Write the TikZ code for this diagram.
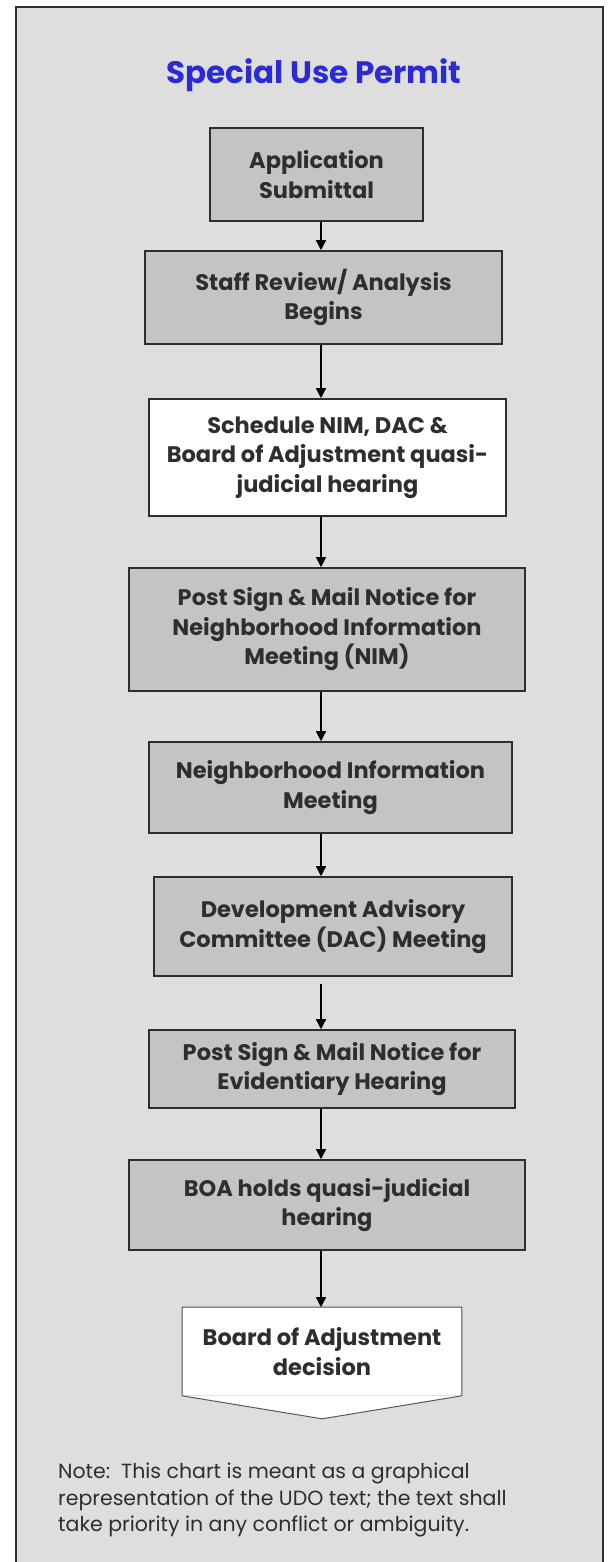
\documentclass[tikz,border=0pt]{standalone}
\usepackage{fontspec}
\setmainfont{Poppins}
\usetikzlibrary{positioning}
\usetikzlibrary{arrows.meta}

\definecolor{panel}{HTML}{DEDEDE}
\definecolor{boxgray}{HTML}{C4C4C4}
\definecolor{titleblue}{HTML}{2A2AD6}
\definecolor{ink}{HTML}{2E2E2E}

\tikzset{
  stage/.style={draw=ink, line width=1.6pt, fill=boxgray, align=center, text=ink,
    font=\bfseries\fontsize{22.5}{29.5}\selectfont, inner sep=0pt},
  flow/.style={-{Triangle[width=10pt,length=10pt]}, line width=1.3pt, black},
}

\begin{document}
\begin{tikzpicture}[x=1pt, y=-1pt]
  \useasboundingbox (0,0) rectangle (608,1562);
  \fill [white] (0,0) rectangle (608,1562);
  \fill [panel] (16,7) rectangle (603,1562);
  \draw [line width=2pt, ink] (16,1562) -- (16,7) -- (603,7) -- (603,1562);

  \node [font=\bfseries\fontsize{31}{36}\selectfont, text=titleblue] (title) at (314,75) {Special Use Permit};

  \node [stage, minimum width=213pt, minimum height=93pt] (s1) at (316.5,174.5) {Application\\Submittal};
  \node [stage, minimum width=357pt, minimum height=93pt] (s2) at (323.5,297.5) {Staff Review/ Analysis\\Begins};
  \node [stage, fill=white, minimum width=357pt, minimum height=117pt] (s3) at (327.5,457.5) {Schedule NIM, DAC \&\\Board of Adjustment quasi-\\judicial hearing};
  \node [stage, minimum width=396pt, minimum height=123pt] (s4) at (327,629.5) {Post Sign \& Mail Notice for\\Neighborhood Information\\Meeting (NIM)};
  \node [stage, minimum width=363pt, minimum height=91pt] (s5) at (330.5,787.5) {Neighborhood Information\\Meeting};
  \node [stage, minimum width=358pt, minimum height=99pt] (s6) at (333,926.5) {Development Advisory\\Committee (DAC) Meeting};
  \node [stage, minimum width=366pt, minimum height=78pt] (s7) at (332,1069) {Post Sign \& Mail Notice for\\Evidentiary Hearing};
  \node [stage, minimum width=396pt, minimum height=90pt] (s8) at (327,1205) {BOA holds quasi-judicial\\hearing};
  \node [stage, draw=none, fill=white, minimum width=278pt, minimum height=87pt] (s9) at (322,1351.5) {Board of Adjustment\\decision};
  \fill [white] (s9.south east) -- ([yshift=-23pt]s9.south) -- (s9.south west) -- cycle;
  \draw [ink!80, line width=1pt] (s9.north west) -- (s9.north east) -- (s9.south east) -- ([yshift=-23pt]s9.south) -- (s9.south west) -- cycle;

  \coordinate (spine) at (321,0);
  \draw [flow] (s1.south -| spine) -- (s2.north -| spine);
  \draw [flow] (s2.south -| spine) -- (s3.north -| spine);
  \draw [flow] (s3.south -| spine) -- (s4.north -| spine);
  \draw [flow] (s4.south -| spine) -- (s5.north -| spine);
  \draw [flow] (s5.south -| spine) -- (s6.north -| spine);
  \draw [flow, shorten <=7pt] (s6.south -| spine) -- (s7.north -| spine);
  \draw [flow] (s7.south -| spine) -- (s8.north -| spine);
  \draw [flow] (s8.south -| spine) -- (s9.north -| spine);

  \node [anchor=north west, align=left, text=ink, font=\fontsize{20.5}{26.5}\selectfont, inner sep=0pt] (note) at (58,1463) {Note:\ \ This chart is meant as a graphical\\representation of the UDO text; the text shall\\take priority in any conflict or ambiguity.};
\end{tikzpicture}
\end{document}
